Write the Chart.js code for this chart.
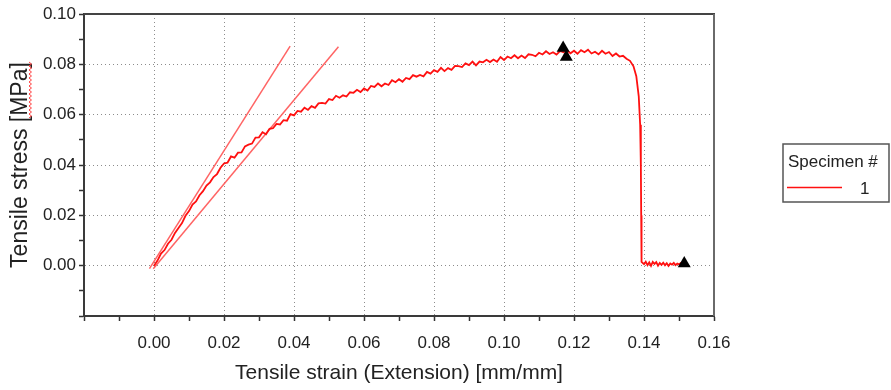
<!DOCTYPE html>
<html>
<head>
<meta charset="utf-8">
<script src="https://cdn.jsdelivr.net/npm/chart.js@4.4.1/dist/chart.umd.min.js"></script>
<style>
html, body { margin: 0; padding: 0; background: #fff; }
#wrap { width: 891px; height: 390px; position: relative; }
</style>
</head>
<body>
<div id="wrap"><canvas id="chart"></canvas></div>
<script>
// specimen 1, tensile strain [mm/mm] vs tensile stress [MPa]
const curveStrain = [
  0.000, 0.001, 0.002, 0.003, 0.004, 0.005, 0.006, 0.007, 0.008, 0.009,
  0.010, 0.011, 0.012, 0.013, 0.014, 0.015, 0.016, 0.017, 0.018, 0.019,
  0.020, 0.021, 0.022, 0.023, 0.024, 0.025, 0.026, 0.027, 0.028, 0.029,
  0.030, 0.031, 0.032, 0.033, 0.034, 0.035, 0.036, 0.037, 0.038, 0.039,
  0.040, 0.041, 0.042, 0.043, 0.044, 0.045, 0.046, 0.047, 0.048, 0.049,
  0.050, 0.051, 0.052, 0.053, 0.054, 0.055, 0.056, 0.057, 0.058, 0.059,
  0.060, 0.061, 0.062, 0.063, 0.064, 0.065, 0.066, 0.067, 0.068, 0.069,
  0.070, 0.071, 0.072, 0.073, 0.074, 0.075, 0.076, 0.077, 0.078, 0.079,
  0.080, 0.081, 0.082, 0.083, 0.084, 0.085, 0.086, 0.087, 0.088, 0.089,
  0.090, 0.091, 0.092, 0.093, 0.094, 0.095, 0.096, 0.097, 0.098, 0.099,
  0.100, 0.101, 0.102, 0.103, 0.104, 0.105, 0.106, 0.107, 0.108, 0.109,
  0.110, 0.111, 0.112, 0.113, 0.114, 0.115, 0.116, 0.117, 0.118, 0.119,
  0.120, 0.121, 0.122, 0.123, 0.124, 0.125, 0.126, 0.127, 0.128, 0.129,
  0.130, 0.131, 0.132, 0.133, 0.134, 0.135, 0.136,
  0.1370, 0.1378, 0.1385, 0.1389, 0.1391, 0.1392, 0.1393,
  0.1400, 0.1405, 0.1410, 0.1415, 0.1420, 0.1425, 0.1430, 0.1435, 0.1440, 0.1445,
  0.1450, 0.1455, 0.1460, 0.1465, 0.1470, 0.1475, 0.1480, 0.1485, 0.1490, 0.1495,
  0.1500, 0.1505, 0.1510
];
const curveStress = [
  0.0000, 0.0020, 0.0048, 0.0062, 0.0087, 0.0103, 0.0130, 0.0150, 0.0169, 0.0198,
  0.0217, 0.0243, 0.0255, 0.0280, 0.0296, 0.0318, 0.0331, 0.0352, 0.0364, 0.0389,
  0.0406, 0.0409, 0.0434, 0.0429, 0.0449, 0.0450, 0.0474, 0.0481, 0.0485, 0.0509,
  0.0510, 0.0530, 0.0522, 0.0544, 0.0546, 0.0563, 0.0561, 0.0578, 0.0576, 0.0602,
  0.0597, 0.0615, 0.0612, 0.0628, 0.0619, 0.0634, 0.0627, 0.0645, 0.0647, 0.0644,
  0.0662, 0.0658, 0.0675, 0.0667, 0.0677, 0.0672, 0.0689, 0.0687, 0.0699, 0.0690,
  0.0704, 0.0696, 0.0714, 0.0710, 0.0724, 0.0713, 0.0724, 0.0718, 0.0737, 0.0729,
  0.0741, 0.0731, 0.0746, 0.0741, 0.0757, 0.0751, 0.0758, 0.0752, 0.0770, 0.0763,
  0.0777, 0.0770, 0.0786, 0.0773, 0.0785, 0.0778, 0.0794, 0.0793, 0.0789, 0.0804,
  0.0797, 0.0811, 0.0796, 0.0811, 0.0808, 0.0818, 0.0809, 0.0819, 0.0810, 0.0829,
  0.0817, 0.0831, 0.0824, 0.0836, 0.0824, 0.0835, 0.0825, 0.0840, 0.0838, 0.0832,
  0.0846, 0.0839, 0.0852, 0.0841, 0.0848, 0.0839, 0.0853, 0.0848, 0.0856, 0.0844,
  0.0854, 0.0842, 0.0856, 0.0848, 0.0858, 0.0843, 0.0850, 0.0840, 0.0854, 0.0842,
  0.0849, 0.0833, 0.0843, 0.0831, 0.0834, 0.0822, 0.0814,
  0.0792, 0.0753, 0.0673, 0.0560, 0.0400, 0.0200, 0.0015,
  0.0006, 0.0016, 0.0002, 0.0013, -0.0001, 0.0015, 0.0007, 0.0014, 0.0000, 0.0011,
  0.0003, 0.0012, 0.0002, 0.0010, -0.0001, 0.0009, 0.0004, 0.0011, 0.0002, 0.0008,
  0.0005, 0.0010, 0.0007
];

// modulus lines
const tangentAStrain = [-0.0013, 0.0389];
const tangentAStress = [-0.0012, 0.0872];
const tangentBStrain = [-0.0002, 0.0527];
const tangentBStress = [-0.0012, 0.0870];

// result markers
const markerStrain = [0.1169, 0.1178, 0.1515];
const markerStress = [0.0865, 0.0829, 0.0009];

const specimenLabels = ['1'];
const xRange = [-0.02, 0.16];
const yRange = [-0.02, 0.10];

const FONT = "'Liberation Sans', Arial, sans-serif";
const RED = '#ff1010';

function pairs(xs, ys) {
    return xs.map((x, i) => ({x, y: ys[i]}));
}

function hundredths(v) {
    return Math.round(v * 100);
}

function tickText(v) {
    const k = hundredths(v);
    if (k % 2 !== 0 || k === -2) return '';
    return (k / 100).toFixed(2);
}

function gridColor(c) {
    if (!c.tick) return 'rgba(0,0,0,0)';
    const k = hundredths(c.tick.value);
    return (k % 2 === 0 && k !== -2) ? '#8c8c8c' : 'rgba(0,0,0,0)';
}

const frameAndLegend = {
    id: 'frameAndLegend',
    afterDraw(chart) {
        const {ctx, chartArea: a} = chart;
        ctx.save();
        // top and right frame
        ctx.lineWidth = 2;
        ctx.strokeStyle = '#444';
        ctx.beginPath();
        ctx.moveTo(a.left, a.top);
        ctx.lineTo(a.right + 1, a.top);
        ctx.stroke();
        ctx.strokeStyle = '#6a6a6a';
        ctx.beginPath();
        ctx.moveTo(a.right, a.top);
        ctx.lineTo(a.right, a.bottom);
        ctx.stroke();

        // legend box
        const lx = a.right + 69, ly = a.top + 130;
        ctx.lineWidth = 1.5;
        ctx.strokeStyle = '#555';
        ctx.strokeRect(lx, ly, 106, 58);
        ctx.fillStyle = '#222';
        ctx.font = '17px ' + FONT;
        ctx.textBaseline = 'alphabetic';
        ctx.textAlign = 'left';
        ctx.fillText('Specimen #', lx + 5, ly + 23);
        ctx.strokeStyle = RED;
        ctx.lineWidth = 1.5;
        ctx.beginPath();
        ctx.moveTo(lx + 4, ly + 43.5);
        ctx.lineTo(lx + 59, ly + 43.5);
        ctx.stroke();
        ctx.fillText(specimenLabels[0], lx + 77, ly + 50);

        // spell-check squiggle under "MPa"
        ctx.strokeStyle = '#ff4040';
        ctx.lineWidth = 1;
        ctx.beginPath();
        let up = true;
        for (let y = a.top + 48; y <= a.top + 104; y += 2) {
            const x = up ? 29 : 31.5;
            if (y === a.top + 48) ctx.moveTo(x, y); else ctx.lineTo(x, y);
            up = !up;
        }
        ctx.stroke();
        ctx.restore();
    }
};

new Chart(document.getElementById('chart'), {
    type: 'scatter',
    data: {
        datasets: [
            {
                label: 'markers',
                data: pairs(markerStrain, markerStress),
                pointStyle: 'triangle',
                pointRadius: 7.5,
                backgroundColor: '#000',
                borderColor: '#000',
                borderWidth: 0,
                showLine: false
            },
            {
                label: specimenLabels[0],
                data: pairs(curveStrain, curveStress),
                showLine: true,
                borderColor: RED,
                borderWidth: 1.8,
                pointRadius: 0,
                tension: 0
            },
            {
                label: 'tangent a',
                data: pairs(tangentAStrain, tangentAStress),
                showLine: true,
                borderColor: '#ff6464',
                borderWidth: 1.5,
                pointRadius: 0
            },
            {
                label: 'tangent b',
                data: pairs(tangentBStrain, tangentBStress),
                showLine: true,
                borderColor: '#ff6464',
                borderWidth: 1.5,
                pointRadius: 0
            }
        ]
    },
    options: {
        responsive: true,
        maintainAspectRatio: false,
        animation: false,
        events: [],
        layout: {padding: {top: 14, right: 177, left: 0, bottom: 0}},
        plugins: {
            legend: {display: false},
            tooltip: {enabled: false}
        },
        scales: {
            x: {
                type: 'linear',
                min: xRange[0], max: xRange[1],
                afterFit: s => { s.height = 74; },
                ticks: {
                    stepSize: 0.01, maxTicksLimit: 40, autoSkip: false, maxRotation: 0,
                    padding: 12, color: '#222', font: {family: FONT, size: 17},
                    callback: v => tickText(v)
                },
                grid: {color: gridColor, lineWidth: 1, tickColor: '#333', tickLength: 5, tickWidth: 1.5},
                border: {display: true, color: '#3a3a3a', width: 2, dash: [1, 3]},
                title: {
                    display: true, text: 'Tensile strain (Extension) [mm/mm]',
                    color: '#222', font: {family: FONT, size: 21}, padding: {top: 0, bottom: 4}
                }
            },
            y: {
                type: 'linear',
                min: yRange[0], max: yRange[1],
                afterFit: s => { s.width = 84; },
                ticks: {
                    stepSize: 0.01, maxTicksLimit: 40, autoSkip: false,
                    padding: 3, color: '#222', font: {family: FONT, size: 17},
                    callback: v => tickText(v)
                },
                grid: {color: gridColor, lineWidth: 1, tickColor: '#333', tickLength: 5, tickWidth: 1.5},
                border: {display: true, color: '#3a3a3a', width: 2, dash: [1, 3]},
                title: {
                    display: true, text: 'Tensile stress [MPa]',
                    color: '#222', font: {family: FONT, size: 23}, padding: {top: 7, bottom: 0}
                }
            }
        }
    },
    plugins: [frameAndLegend]
});
</script>
</body>
</html>
